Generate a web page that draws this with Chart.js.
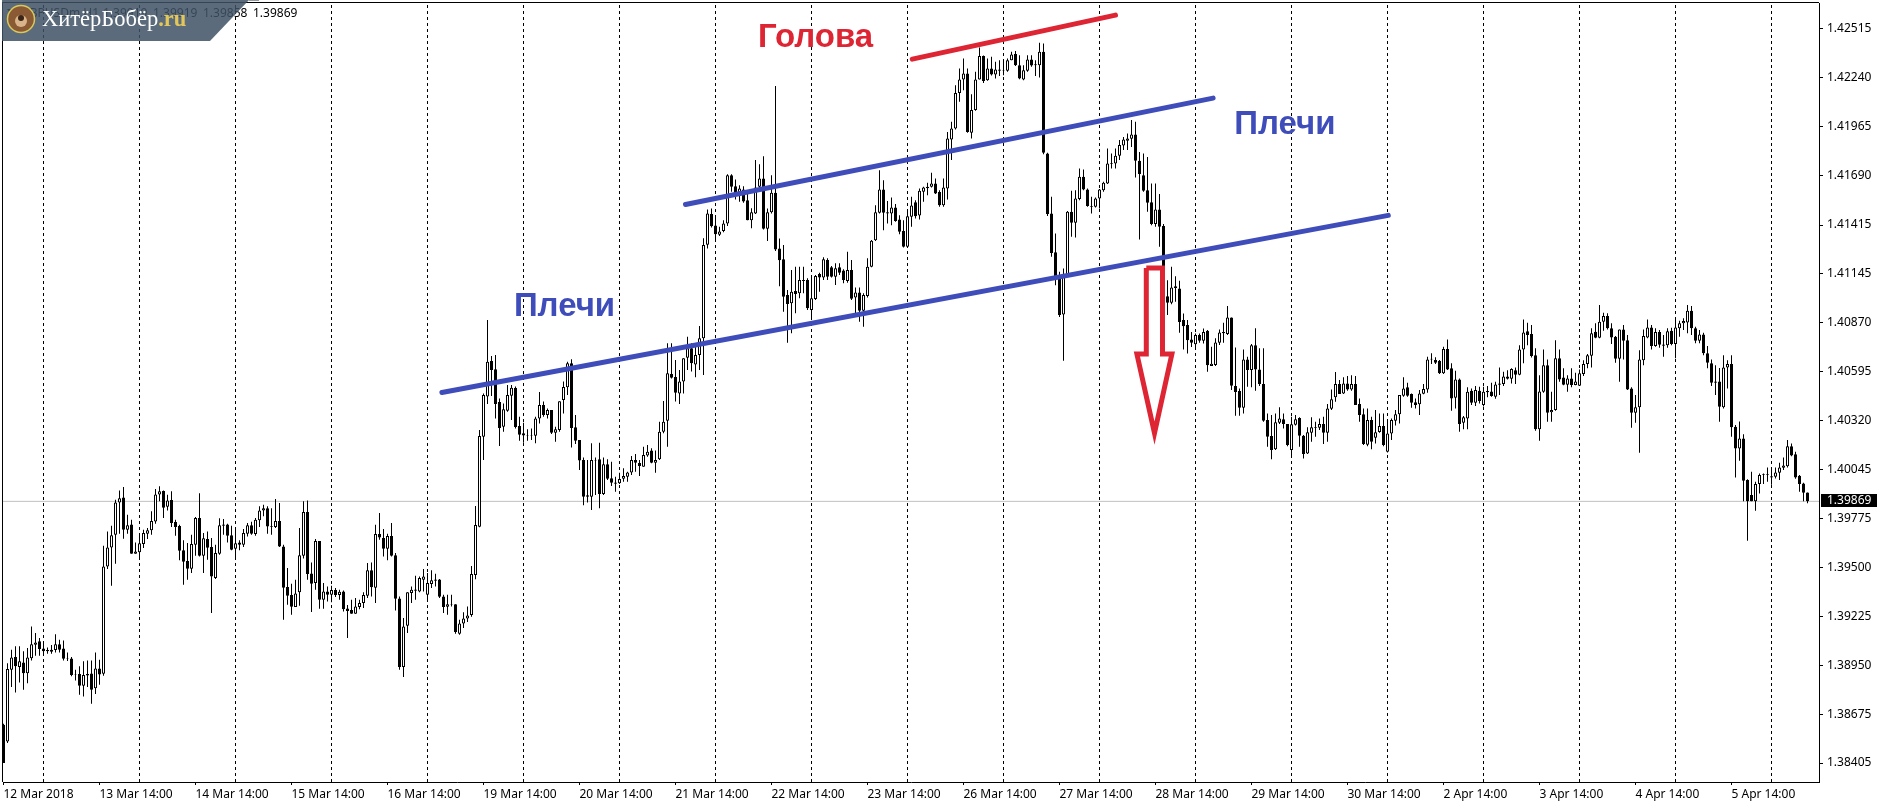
<!DOCTYPE html>
<html lang="ru">
<head>
<meta charset="utf-8">
<title>GBPUSDm,H1</title>
<style>html,body{margin:0;padding:0;background:#fff;overflow:hidden}canvas{display:block}</style>
<script src="https://cdn.jsdelivr.net/npm/chart.js@4/dist/chart.umd.min.js"></script>
</head>
<body>
<canvas id="c" width="1879" height="806"></canvas>
<script>
// Prices are stored in points above 1.38000 (1 point = 0.00001)
const BASE_PRICE = 1.38;
const POINT = 0.00001;

const opens = [
619,526,927,998,942,968,908,992,1067,1087,1046,1037,1028,1037,1069,1046,990,990,901,903,
838,903,906,823,934,905,1505,1611,1682,1863,1891,1710,1740,1576,1585,1630,1688,1708,1757,1908,
1927,1839,1876,1753,1731,1595,1535,1492,1626,1776,1565,1658,1613,1440,1576,1740,1740,1680,1604,1639,
1626,1688,1736,1686,1763,1818,1830,1731,1725,1759,1617,1390,1345,1278,1360,1565,1809,1466,1412,1647,
1319,1365,1347,1373,1345,1365,1270,1261,1240,1278,1300,1341,1483,1386,1686,1664,1604,1675,1567,1326,
942,1173,1356,1369,1365,1431,1347,1406,1432,1432,1337,1279,1294,1294,1128,1186,1214,1233,1457,1727,
2231,2455,2654,2608,2425,2287,2376,2460,2503,2290,2250,2238,2235,2236,2333,2408,2352,2380,2253,2268,
2436,2507,2641,2283,2212,2100,1903,1895,2097,2104,1910,2076,1998,1975,1970,1996,2007,2031,2100,2083,
2063,2125,2153,2085,2104,2259,2320,2581,2565,2473,2539,2673,2725,2634,2688,2781,3304,3476,3412,3360,
3382,3423,3694,3632,3588,3614,3554,3442,3479,3629,3675,3394,3487,3595,3284,3223,3023,2977,3046,3033,
3107,3107,2940,3001,3141,3122,3219,3178,3126,3178,3160,3102,3163,3010,3037,2936,3018,3182,3330,3483,
3614,3487,3479,3513,3446,3382,3293,3461,3543,3468,3601,3621,3629,3647,3599,3526,3619,3893,3955,4154,
4229,4263,3931,4058,4229,4360,4225,4291,4257,4285,4281,4278,4337,4371,4309,4229,4278,4341,4315,4309,
4384,3815,3479,3263,3125,2914,3125,3489,3427,3560,3685,3614,3522,3517,3563,3610,3647,3757,3759,3802,
3860,3886,3897,3921,3774,3694,3610,3543,3420,3502,3409,3017,2980,3073,3060,2883,2855,2774,2748,2799,
2767,2823,2626,2632,2757,2809,2805,2898,2514,2486,2393,2663,2604,2742,2607,2525,2324,2234,2160,2309,
2329,2302,2156,2298,2335,2236,2137,2253,2285,2281,2302,2253,2387,2451,2525,2473,2529,2495,2525,2413,
2357,2186,2324,2225,2257,2290,2147,2249,2320,2356,2460,2507,2469,2423,2412,2471,2495,2663,2660,2656,
2585,2721,2613,2449,2551,2309,2333,2488,2421,2488,2408,2480,2484,2454,2529,2525,2568,2555,2603,2577,
2719,2820,2805,2686,2273,2482,2630,2367,2380,2669,2562,2521,2557,2520,2516,2581,2637,2684,2818,2784,
2874,2906,2837,2790,2667,2831,2771,2501,2365,2395,2659,2786,2842,2738,2816,2747,2743,2824,2749,2838,
2865,2870,2935,2837,2768,2803,2697,2641,2540,2540,2395,2618,2637,2286,2165,2221,1988,1904,1869,1966,
2016,2018,2010,2007,2029,2057,2066,2178,2133,2012,1969,1919];

const highs = [
625,964,1039,1058,1058,1030,1048,1169,1132,1104,1080,1052,1065,1125,1095,1091,1024,998,927,946,
974,979,979,1024,983,1621,1701,1733,1878,1930,1949,1794,1766,1639,1692,1710,1720,1813,1938,1953,
1930,1906,1925,1766,1738,1651,1636,1682,1781,1915,1692,1701,1664,1626,1774,1770,1744,1733,1710,1651,
1714,1748,1755,1776,1841,1850,1841,1830,1882,1860,1626,1496,1408,1431,1720,1869,1874,1527,1658,1647,
1412,1393,1397,1384,1375,1371,1289,1319,1328,1319,1360,1524,1527,1738,1804,1714,1688,1748,1580,1337,
1216,1360,1393,1453,1449,1490,1468,1483,1464,1434,1347,1347,1347,1294,1207,1248,1281,1507,1843,2268,
2473,2884,2682,2688,2445,2417,2520,2520,2511,2343,2309,2272,2277,2343,2481,2427,2389,2380,2287,2429,
2539,2650,2664,2352,2212,2115,2100,2194,2115,2197,2115,2104,2091,2007,2029,2054,2035,2123,2134,2100,
2175,2184,2166,2153,2315,2430,2753,2753,2660,2604,2669,2790,2753,2734,2850,3341,3502,3507,3457,3405,
3442,3699,3699,3670,3638,3632,3591,3509,3778,3755,3800,3507,3694,4192,3339,3303,3051,3163,3182,3182,
3182,3117,3135,3135,3148,3234,3229,3186,3201,3201,3167,3266,3219,3066,3066,3033,3229,3331,3526,3722,
3666,3550,3569,3532,3470,3442,3498,3573,3554,3619,3629,3651,3707,3675,3610,3675,3936,3992,4197,4291,
4347,4291,4147,4272,4408,4363,4347,4356,4328,4337,4337,4347,4384,4389,4365,4309,4365,4365,4337,4434,
4431,3819,3573,3367,3153,3172,3494,3606,3610,3731,3726,3619,3573,3569,3617,3657,3843,3815,3843,3890,
3908,3927,4002,3992,3824,3815,3796,3647,3647,3588,3420,3106,3181,3129,3103,2920,2883,2817,2808,2808,
2836,2827,2734,2781,2831,2868,2962,2898,2730,2501,2719,2678,2749,2837,2725,2725,2361,2352,2361,2395,
2361,2302,2343,2352,2339,2240,2283,2339,2315,2333,2343,2413,2495,2592,2548,2563,2570,2574,2570,2445,
2389,2389,2343,2380,2361,2361,2324,2333,2380,2464,2563,2533,2473,2445,2492,2525,2678,2697,2675,2660,
2734,2775,2641,2600,2557,2346,2507,2501,2514,2510,2510,2514,2533,2538,2618,2594,2603,2613,2618,2743,
2887,2868,2855,2725,2575,2719,2663,2482,2771,2719,2613,2575,2613,2589,2607,2659,2693,2837,2865,2967,
2924,2921,2865,2794,2831,2855,2799,2507,2464,2715,2831,2887,2855,2837,2827,2799,2837,2840,2883,2879,
2893,2967,2962,2846,2827,2812,2738,2663,2631,2615,2687,2659,2687,2296,2316,2245,1992,2035,1979,2025,
2025,2059,2044,2059,2085,2115,2212,2193,2147,2016,1973,1919];

const lows = [
405,517,830,800,856,815,852,979,1005,1005,1017,1017,1017,1024,1024,979,976,890,867,787,
778,830,737,791,843,893,1490,1397,1520,1688,1660,1688,1576,1576,1557,1608,1658,1682,1744,1869,
1776,1818,1725,1677,1539,1403,1431,1468,1565,1561,1468,1542,1244,1434,1570,1682,1639,1595,1557,1595,
1613,1673,1682,1677,1725,1785,1688,1682,1720,1613,1207,1291,1235,1278,1285,1550,1431,1250,1375,1268,
1268,1309,1304,1334,1319,1253,1104,1240,1240,1266,1272,1328,1337,1300,1654,1561,1539,1561,1259,927,
886,1132,1300,1319,1360,1365,1319,1384,1393,1328,1244,1235,1281,1128,1123,1160,1194,1224,1433,1724,
2100,2414,2458,2333,2179,2259,2371,2324,2277,2208,2197,2208,2212,2194,2305,2343,2333,2246,2203,2259,
2361,2464,2171,2190,2044,1847,1862,1821,1905,1830,1905,1988,1955,1923,1966,1979,1979,2016,2035,2011,
2063,2119,2082,2029,2100,2250,2175,2557,2427,2414,2473,2604,2595,2563,2604,2576,3284,3401,3330,3353,
3375,3409,3601,3558,3545,3539,3442,3397,3476,3610,3390,3326,3479,3270,3073,2930,2757,2809,2921,3005,
3033,2940,2899,2996,3042,3107,3107,3122,3079,3135,3089,3092,2996,2921,2874,2846,3010,3178,3326,3479,
3386,3423,3414,3433,3364,3289,3289,3405,3451,3446,3545,3582,3625,3588,3517,3517,3558,3778,3949,4104,
4169,3931,3899,4054,4229,4210,4222,4251,4235,4248,4253,4272,4337,4304,4231,4225,4272,4300,4248,4240,
3811,3465,3237,3078,2901,2655,3125,3349,3345,3554,3610,3517,3479,3513,3507,3601,3644,3731,3731,3778,
3834,3834,3852,3681,3334,3601,3489,3414,3405,3293,3013,2911,2972,2985,2812,2718,2696,2733,2724,2756,
2752,2594,2626,2626,2744,2757,2799,2492,2348,2348,2361,2510,2507,2488,2514,2315,2175,2104,2156,2302,
2277,2178,2128,2294,2175,2109,2134,2203,2231,2268,2190,2203,2380,2426,2469,2469,2488,2488,2408,2315,
2184,2178,2160,2193,2253,2178,2143,2212,2294,2305,2454,2454,2393,2389,2352,2468,2477,2637,2637,2581,
2581,2604,2376,2389,2259,2272,2272,2408,2402,2417,2399,2451,2454,2443,2464,2514,2551,2529,2525,2575,
2641,2743,2674,2264,2208,2477,2314,2314,2376,2538,2518,2482,2507,2518,2514,2570,2613,2618,2781,2781,
2824,2831,2749,2644,2538,2663,2492,2281,2309,2141,2631,2781,2719,2734,2728,2678,2728,2743,2669,2790,
2827,2809,2799,2753,2753,2687,2613,2514,2464,2314,2389,2501,2230,2003,2096,1869,1649,1869,1816,1913,
1966,1979,1962,1997,1988,2044,2059,2122,1995,1923,1869,1858];

const closes = [
405,931,996,946,974,908,996,1069,1080,1043,1031,1030,1039,1069,1039,989,987,897,897,838,
897,895,815,934,901,1505,1611,1679,1863,1886,1710,1735,1576,1589,1634,1692,1708,1759,1908,1925,
1833,1874,1748,1725,1593,1531,1492,1630,1776,1565,1662,1610,1449,1580,1735,1733,1677,1598,1634,1626,
1692,1736,1688,1766,1818,1830,1729,1727,1759,1617,1386,1341,1279,1354,1567,1809,1462,1408,1647,1319,
1365,1347,1373,1345,1363,1266,1255,1240,1281,1300,1345,1483,1388,1686,1667,1604,1675,1565,1324,942,
1169,1360,1375,1376,1440,1449,1412,1427,1425,1335,1278,1294,1291,1138,1186,1214,1231,1462,1737,2235,
2464,2650,2604,2414,2279,2384,2464,2505,2285,2242,2238,2235,2238,2333,2408,2352,2380,2253,2272,2429,
2509,2641,2279,2208,2097,1895,1895,2100,2100,1910,2076,1996,1973,1968,1994,2011,2031,2100,2085,2067,
2128,2147,2085,2100,2259,2315,2585,2561,2477,2540,2669,2725,2641,2688,2781,3303,3479,3408,3364,3379,
3423,3694,3629,3591,3619,3546,3442,3487,3625,3675,3394,3487,3595,3278,3218,3014,2973,3042,3029,3107,
3102,2949,3005,3130,3122,3223,3126,3126,3173,3148,3107,3163,3003,3037,2936,3023,3182,3327,3487,3614,
3483,3479,3513,3438,3377,3293,3464,3524,3464,3606,3625,3629,3647,3591,3526,3625,3899,3955,4154,4229,
4263,3936,4058,4229,4360,4220,4291,4257,4285,4278,4278,4337,4369,4309,4235,4281,4341,4307,4309,4384,
3819,3476,3259,3116,2911,3125,3489,3427,3563,3685,3614,3522,3517,3563,3614,3651,3759,3761,3802,3862,
3893,3899,3921,3774,3700,3606,3539,3420,3502,3405,3017,2980,3065,3062,2873,2849,2771,2756,2799,2767,
2817,2631,2639,2758,2814,2816,2898,2516,2481,2393,2663,2604,2742,2607,2525,2320,2231,2156,2311,2333,
2302,2184,2300,2328,2236,2134,2255,2283,2281,2302,2253,2389,2440,2525,2469,2529,2495,2525,2408,2352,
2190,2324,2203,2255,2290,2184,2249,2324,2356,2464,2501,2460,2421,2408,2473,2497,2663,2667,2645,2585,
2721,2607,2445,2551,2302,2339,2482,2421,2492,2430,2482,2486,2458,2523,2521,2568,2555,2609,2577,2719,
2814,2799,2682,2273,2484,2630,2365,2380,2669,2551,2521,2557,2520,2540,2585,2637,2686,2809,2784,2874,
2906,2837,2786,2667,2831,2768,2495,2365,2395,2663,2794,2842,2738,2816,2745,2740,2820,2749,2842,2865,
2878,2935,2837,2768,2803,2697,2645,2533,2533,2398,2618,2637,2283,2165,2221,1984,1869,1869,1966,2016,
2020,2022,2003,2031,2059,2070,2178,2126,2003,1966,1917,1869];

// Axis content
const dateLabels = ["12 Mar 2018","13 Mar 14:00","14 Mar 14:00","15 Mar 14:00","16 Mar 14:00","19 Mar 14:00",
  "20 Mar 14:00","21 Mar 14:00","22 Mar 14:00","23 Mar 14:00","26 Mar 14:00","27 Mar 14:00","28 Mar 14:00",
  "29 Mar 14:00","30 Mar 14:00","2 Apr 14:00","3 Apr 14:00","4 Apr 14:00","5 Apr 14:00"];
const dateLabelBars = [0,24,48,72,96,120,144,168,192,216,240,264,288,312,336,360,384,408,432];
const separatorBars = [10,34,58,82,106,130,154,178,202,226,250,274,298,322,346,370,394,418,442];
const priceTicks = [1.42515,1.42240,1.41965,1.41690,1.41415,1.41145,1.40870,1.40595,1.40320,1.40045,
  1.39775,1.39500,1.39225,1.38950,1.38675,1.38405];
const priceMin = 1.38299, priceMax = 1.42657;
const barMin = -0.125, barMax = 453.875;

// Drawn annotations: [bar, points above BASE_PRICE]
const lowerShoulderLine = [[109.6,2478],[346.2,3469]];
const upperShoulderLine = [[170.5,3530],[302.4,4125]];
const headLine = [[227.2,4343],[278.0,4589]];
const downArrow = [[285.7,3174],[289.75,3174],[289.75,2693],[292.1,2693],[287.75,2251],[283.35,2693],[285.7,2693],[285.7,3174]];
const notes = [
  {text:"Голова", bar:188.6, pts:4412, color:"#DD2534"},
  {text:"Плечи",  bar:127.6, pts:2907, color:"#3F4DBB"},
  {text:"Плечи",  bar:307.7, pts:3924, color:"#3F4DBB"}
];
const headerSymbol = "GBPUSDm,H1";
const headerValues = ["1.39919","1.39919","1.39858","1.39869"];
const brandName = "ХитёрБобёр", brandSuffix = ".ru";

const price = p => BASE_PRICE + p * POINT;
const toPts = a => a.map(([x,p]) => ({x, y:price(p)}));
const lastPrice = price(closes[closes.length-1]);
const isUp = i => closes[i] >= opens[i];

const FONT = '"Noto Sans", sans-serif';
const lineBase = {type:'line', pointRadius:0, tension:0, fill:false, xAxisID:'x', yAxisID:'y'};

const datasets = [
  {type:'bar', order:3, grouped:false, barThickness:3, inflateAmount:0, borderSkipped:false, borderWidth:1,
   borderColor:'#000', backgroundColor:ctx => isUp(ctx.dataIndex) ? '#fff' : '#000',
   data: opens.map((o,i) => ({x:i, y:[price(Math.min(o,closes[i])), price(Math.max(o,closes[i]))]}))},
  {type:'bar', order:4, grouped:false, barThickness:1, inflateAmount:0, borderWidth:0, backgroundColor:'#000',
   data: highs.map((h,i) => ({x:i, y:[price(lows[i]), price(h)]}))},
  ...separatorBars.map(b => ({...lineBase, order:5, borderColor:'#000', borderWidth:1, borderDash:[3,3],
    data:[{x:b,y:priceMin},{x:b,y:priceMax}]})),
  {...lineBase, order:6, borderColor:'#c0c0c0', borderWidth:1, data:[{x:barMin,y:lastPrice},{x:barMax,y:lastPrice}]},
  {...lineBase, order:1, borderColor:'#3F4DBB', borderWidth:5, borderCapStyle:'round', data:toPts(lowerShoulderLine)},
  {...lineBase, order:1, borderColor:'#3F4DBB', borderWidth:5, borderCapStyle:'round', data:toPts(upperShoulderLine)},
  {...lineBase, order:1, borderColor:'#DD2534', borderWidth:5, borderCapStyle:'round', data:toPts(headLine)},
  {...lineBase, order:1, borderColor:'#DD2534', borderWidth:5, borderJoinStyle:'miter', data:toPts(downArrow)}
];

const noPadding = s => { s.paddingTop = 0; s.paddingBottom = 0; s.paddingLeft = 0; s.paddingRight = 0; };

const overlay = {
  id:'overlay',
  afterDraw(chart){
    const {ctx, chartArea:a, scales:{x,y}} = chart;
    ctx.save();
    // left and top frame
    ctx.fillStyle = '#000';
    ctx.fillRect(a.left-1, a.top-1, 1, a.bottom-a.top+1);
    ctx.fillRect(a.left-1, a.top-1, a.right-a.left+1, 1);
    // annotation notes
    ctx.textAlign = 'left'; ctx.textBaseline = 'alphabetic';
    ctx.font = 'bold 33px "Liberation Sans", sans-serif';
    notes.forEach(n => { ctx.fillStyle = n.color; ctx.fillText(n.text, x.getPixelForValue(n.bar), y.getPixelForValue(price(n.pts))); });
    // current price tag
    const ly = y.getPixelForValue(lastPrice);
    ctx.fillStyle = '#000';
    ctx.fillRect(a.right+2, Math.round(ly)-7, 56, 13);
    ctx.fillStyle = '#fff';
    ctx.font = '12px ' + FONT; ctx.textBaseline = 'middle';
    ctx.fillText(lastPrice.toFixed(5), a.right+8, Math.round(ly));
    // header line
    ctx.textBaseline = 'alphabetic'; ctx.fillStyle = '#000';
    ctx.beginPath(); ctx.moveTo(7,9); ctx.lineTo(14,9); ctx.lineTo(10.5,13); ctx.closePath(); ctx.fill();
    ctx.fillText(headerSymbol, 21, 17);
    [103,153,203,253].forEach((hx,i) => ctx.fillText(headerValues[i], hx, 17));
    // brand banner
    ctx.fillStyle = 'rgba(62,81,100,0.85)';
    ctx.beginPath(); ctx.moveTo(2,0); ctx.lineTo(249,0); ctx.lineTo(210,41); ctx.lineTo(2,41); ctx.closePath(); ctx.fill();
    ctx.fillStyle = '#8f989f'; ctx.fillRect(249,0,10,1);
    ctx.beginPath(); ctx.arc(21,19,13.5,0,Math.PI*2); ctx.fillStyle='#8a5a34'; ctx.fill();
    ctx.lineWidth = 1.5; ctx.strokeStyle='#d9c95a'; ctx.stroke();
    ctx.beginPath(); ctx.arc(21,21,6,0,Math.PI*2); ctx.fillStyle='#d9b48a'; ctx.fill();
    ctx.beginPath(); ctx.arc(21,18,3,0,Math.PI*2); ctx.fillStyle='#3a2416'; ctx.fill();
    ctx.font = '22.5px "Liberation Serif", serif'; ctx.fillStyle = '#fff';
    ctx.fillText(brandName, 42, 26);
    const bw = ctx.measureText(brandName).width;
    ctx.font = 'bold 22.5px "Liberation Serif", serif'; ctx.fillStyle = '#E3C75A';
    ctx.fillText(brandSuffix, 42+bw, 26);
    ctx.restore();
  }
};

new Chart(document.getElementById('c'), {
  type:'bar',
  data:{datasets},
  plugins:[overlay],
  options:{
    responsive:false, devicePixelRatio:1, animation:false, events:[],
    layout:{padding:{left:3, top:3, right:0, bottom:0}},
    plugins:{legend:{display:false}, tooltip:{enabled:false}, title:{display:false}},
    scales:{
      x:{type:'linear', position:'bottom', min:barMin, max:barMax, offset:false,
         grid:{display:true, offset:false, drawOnChartArea:false, drawTicks:true, tickLength:3, tickColor:'#000'},
         border:{display:true, color:'#000', width:1},
         afterBuildTicks(s){ s.ticks = dateLabelBars.map(v => ({value:v})); },
         afterFit(s){ s.height = 24; noPadding(s); },
         ticks:{autoSkip:false, maxRotation:0, minRotation:0, align:'start', padding:2, color:'#000',
                font:{family:FONT, size:12},
                callback(v,i){ return dateLabels[i]; }}},
      y:{type:'linear', position:'right', min:priceMin, max:priceMax, beginAtZero:false,
         grid:{display:true, drawOnChartArea:false, drawTicks:true, tickLength:4, tickColor:'#000'},
         border:{display:true, color:'#000', width:1},
         afterBuildTicks(s){ s.ticks = priceTicks.map(v => ({value:v})); },
         afterFit(s){ s.width = 60; noPadding(s); },
         ticks:{autoSkip:false, padding:4, color:'#000', font:{family:FONT, size:12},
                callback(v){ return Number(v).toFixed(5); }}}
    }
  }
});
</script>
</body>
</html>
